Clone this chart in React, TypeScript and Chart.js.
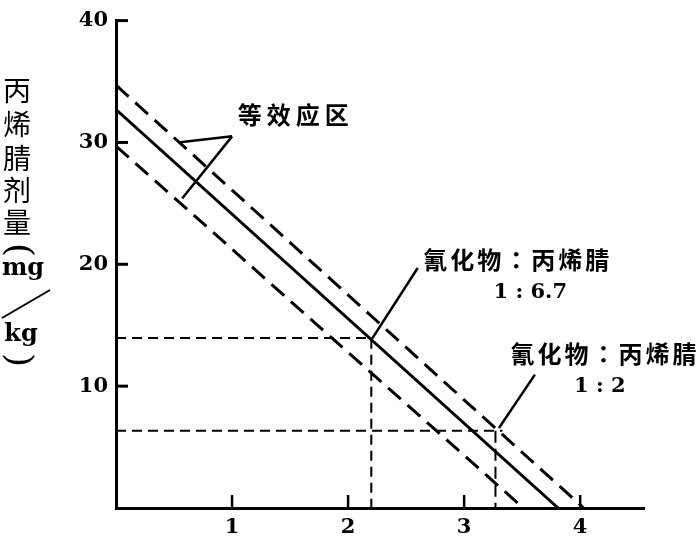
import React, { useEffect, useRef } from "react";
import { Chart, registerables } from "chart.js";

Chart.register(...registerables);

// Axis ticks
const xTickValues = [1, 2, 3, 4];
const yTickValues = [10, 20, 30, 40];

// Isobole (solid) and equal-effect band (dashed)
const upperBandX = [0, 4.03];
const upperBandY = [34.7, 0];
const isoboleX = [0, 3.81];
const isoboleY = [32.7, 0];
const lowerBandX = [0, 3.51];
const lowerBandY = [29.7, 0];

// Reference lines for the two mixtures
const ratio67X = [0, 2.2, 2.2];
const ratio67Y = [13.95, 13.95, 0];
const ratio2HX = [0, 3.33];
const ratio2HY = [6.33, 6.33];
const ratio2VX = [3.27, 3.27];
const ratio2VY = [6.33, 0];

// Texts
const yTitleChars = ["丙", "烯", "腈", "剂", "量"];
const zoneLabel = "等效应区";
const mixLabelParts = ["氰化物", "：", "丙烯腈"];
const ratio67Label = "1 : 6.7";
const ratio2Label = "1 : 2";

const zip = (xs: number[], ys: number[]) => xs.map((x, i) => ({ x, y: ys[i] }));

const TICK_FONT = { family: "'DejaVu Serif', serif", size: 21, weight: "bold" as const };

const drawPlugin = {
  id: "decor",
  afterDraw(chart: any) {
    const { ctx, chartArea, scales } = chart;
    const xs = scales.x;
    const ys = scales.y;
    const X = (v: number) => xs.getPixelForValue(v);
    const Y = (v: number) => ys.getPixelForValue(v);
    ctx.save();
    ctx.strokeStyle = "#000";
    ctx.fillStyle = "#000";
    ctx.lineCap = "butt";

    // inward tick marks
    ctx.lineWidth = 3;
    yTickValues.forEach((v) => {
      const py = Y(v);
      ctx.beginPath();
      ctx.moveTo(chartArea.left, py);
      ctx.lineTo(chartArea.left + 12, py);
      ctx.stroke();
    });
    ctx.lineWidth = 2.5;
    xTickValues.forEach((v) => {
      const px = X(v);
      ctx.beginPath();
      ctx.moveTo(px, chartArea.bottom);
      ctx.lineTo(px, chartArea.bottom - 13);
      ctx.stroke();
    });

    // y-axis title (vertical)
    ctx.textAlign = "center";
    ctx.textBaseline = "middle";
    ctx.font = "28px 'Noto Sans CJK SC'";
    const charYs = [90, 124, 158, 190, 222];
    yTitleChars.forEach((c, i) => ctx.fillText(c, 17, charYs[i]));
    const rotated = (t: string, x: number, y: number) => {
      ctx.save();
      ctx.translate(x, y);
      ctx.rotate(Math.PI / 2);
      ctx.font = "36px 'DejaVu Serif'";
      ctx.textAlign = "center";
      ctx.textBaseline = "middle";
      ctx.fillText(t, 0, 0);
      ctx.restore();
    };
    rotated("(", 17, 250);
    rotated(")", 17, 360);
    ctx.textBaseline = "alphabetic";
    ctx.font = "bold 24px 'DejaVu Serif'";
    ctx.fillText("mg", 23, 275);
    ctx.fillText("kg", 21, 341);
    ctx.lineWidth = 2;
    ctx.beginPath();
    ctx.moveTo(2, 318);
    ctx.lineTo(50, 290);
    ctx.stroke();

    // pointer lines
    ctx.lineWidth = 2.5;
    const seg = (a: number[], b: number[]) => {
      ctx.beginPath();
      ctx.moveTo(X(a[0]), Y(a[1]));
      ctx.lineTo(X(b[0]), Y(b[1]));
      ctx.stroke();
    };
    seg([1.0, 30.5], [0.534, 30.0]);
    seg([1.0, 30.5], [0.57, 25.4]);
    seg([2.6, 19.7], [2.207, 13.9]);
    seg([3.61, 10.95], [3.3, 6.57]);

    // annotation texts
    ctx.textAlign = "left";
    ctx.textBaseline = "middle";
    ctx.font = "bold 24px 'Noto Sans CJK SC'";
    (ctx as any).letterSpacing = "5px";
    ctx.fillText(zoneLabel, X(1.05), Y(32.3));
    (ctx as any).letterSpacing = "3px";
    const drawMix = (x0: number, y0: number) => {
      let x = x0;
      mixLabelParts.forEach((p, i) => {
        ctx.font = i === 1 ? "bold 24px 'Noto Sans CJK TC'" : "bold 24px 'Noto Sans CJK SC'";
        ctx.fillText(p, x, y0);
        x += ctx.measureText(p).width;
      });
    };
    drawMix(X(2.647), Y(20.4));
    drawMix(X(3.4), Y(12.66));
    (ctx as any).letterSpacing = "0px";
    ctx.textAlign = "center";
    ctx.font = "bold 21px 'DejaVu Serif'";
    ctx.fillText(ratio67Label, X(3.57), Y(17.7));
    ctx.fillText(ratio2Label, X(4.17), Y(9.98));
    ctx.restore();
  },
};

export default function App() {
  const ref = useRef<HTMLCanvasElement | null>(null);
  useEffect(() => {
    if (!ref.current) return;
    const line = (data: any[], width: number, dash: number[]) => ({
      data,
      showLine: true,
      borderColor: "#000",
      backgroundColor: "#000",
      borderWidth: width,
      borderDash: dash,
      pointRadius: 0,
      fill: false,
      tension: 0,
    });
    const chart = new Chart(ref.current, {
      type: "scatter",
      data: {
        datasets: [
          line(zip(upperBandX, upperBandY), 3, [17, 9]),
          line(zip(isoboleX, isoboleY), 3, []),
          line(zip(lowerBandX, lowerBandY), 3, [17, 9]),
          line(zip(ratio67X, ratio67Y), 2, [10, 6]),
          line(zip(ratio2HX, ratio2HY), 2, [10, 6]),
          line(zip(ratio2VX, ratio2VY), 2, [12, 6]),
        ],
      },
      options: {
        animation: false,
        responsive: true,
        maintainAspectRatio: false,
        layout: { padding: { top: 15, right: 55, left: 0, bottom: 0 } },
        plugins: { legend: { display: false }, tooltip: { enabled: false } },
        scales: {
          x: {
            type: "linear",
            min: 0,
            max: 4.55,
            grid: { display: false, drawTicks: false },
            border: { display: true, color: "#000", width: 3 },
            ticks: { color: "#000", font: TICK_FONT, padding: 7, maxRotation: 0 },
            afterBuildTicks: (s: any) => {
              s.ticks = xTickValues.map((v) => ({ value: v }));
            },
            afterFit: (s: any) => {
              s.height = 28;
            },
          },
          y: {
            type: "linear",
            min: 0,
            max: 40,
            grid: { display: false, drawTicks: false },
            border: { display: true, color: "#000", width: 3 },
            ticks: { color: "#000", font: TICK_FONT, padding: 8 },
            afterBuildTicks: (s: any) => {
              s.ticks = yTickValues.map((v) => ({ value: v }));
            },
            afterFit: (s: any) => {
              s.width = 116;
            },
          },
        },
      } as any,
      plugins: [drawPlugin],
    });
    return () => chart.destroy();
  }, []);
  return (
    <div style={{ position: "absolute", left: 0, top: 0, width: 699, height: 536, background: "#fff" }}>
      <canvas ref={ref} />
    </div>
  );
}
